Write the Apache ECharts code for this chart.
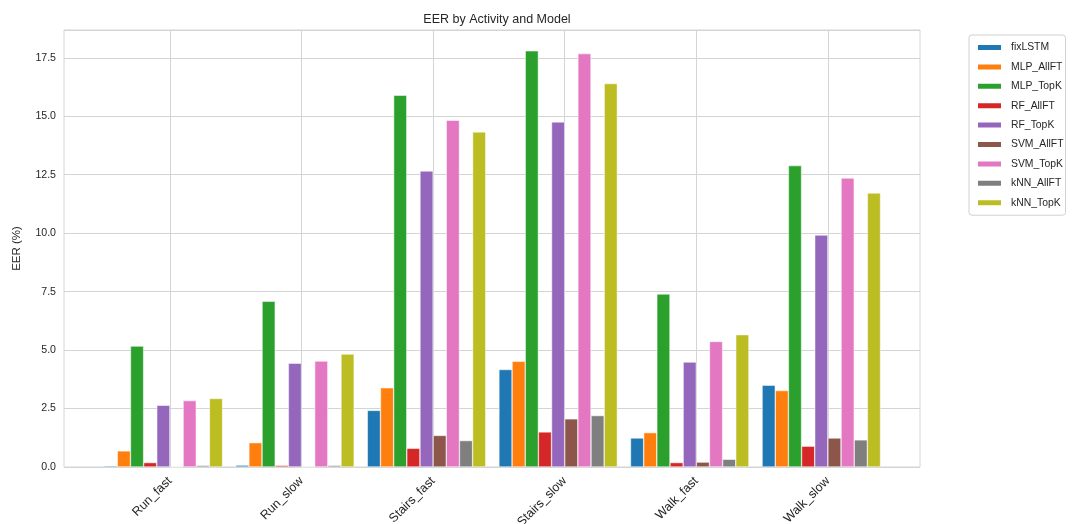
<!DOCTYPE html>
<html>
<head>
<meta charset="utf-8">
<script src="https://cdn.jsdelivr.net/npm/echarts@6/dist/echarts.min.js"></script>
<style>
  html, body { margin: 0; padding: 0; background: #fff; }
  #chart { width: 1073px; height: 524px; }
</style>
</head>
<body>
<div id="chart"></div>
<script>
// Activities (x groups) and the EER (%) of each model per activity
const activities = ['Run_fast', 'Run_slow', 'Stairs_fast', 'Stairs_slow', 'Walk_fast', 'Walk_slow'];
const models = ['fixLSTM', 'MLP_AllFT', 'MLP_TopK', 'RF_AllFT', 'RF_TopK', 'SVM_AllFT', 'SVM_TopK', 'kNN_AllFT', 'kNN_TopK'];

const fixLSTM   = [0.05, 0.08, 2.42, 4.17, 1.24, 3.50];
const MLP_AllFT = [0.69, 1.04, 3.39, 4.52, 1.47, 3.27];
const MLP_TopK  = [5.17, 7.09, 15.90, 17.80, 7.40, 12.89];
const RF_AllFT  = [0.19, 0.07, 0.80, 1.50, 0.19, 0.89];
const RF_TopK   = [2.64, 4.44, 12.66, 14.76, 4.49, 9.92];
const SVM_AllFT = [0.00, 0.00, 1.35, 2.06, 0.21, 1.24];
const SVM_TopK  = [2.84, 4.53, 14.83, 17.68, 5.37, 12.36];
const kNN_AllFT = [0.07, 0.07, 1.13, 2.20, 0.33, 1.16];
const kNN_TopK  = [2.93, 4.83, 14.33, 16.40, 5.66, 11.72];

const seriesValues = [fixLSTM, MLP_AllFT, MLP_TopK, RF_AllFT, RF_TopK, SVM_AllFT, SVM_TopK, kNN_AllFT, kNN_TopK];
const yTicks = [0, 2.5, 5, 7.5, 10, 12.5, 15, 17.5];

const colors = ['#1f77b4', '#ff7f0e', '#2ca02c', '#d62728', '#9467bd', '#8c564b', '#e377c2', '#7f7f7f', '#bcbd22'];
const textColor = '#262626';
const gridColor = '#d4d4d4';
const font = '"Liberation Sans", Arial, sans-serif';

// bar groups sit on integer positions; tick marks sit half a bar to the right
const barUnit = 0.1;
const tickPositions = activities.map((_, i) => i + barUnit / 2);
const yMax = Math.max(...seriesValues.flat()) * 1.05;

const chart = echarts.init(document.getElementById('chart'), null, { renderer: 'canvas' });

chart.setOption({
  animation: false,
  backgroundColor: '#ffffff',
  color: colors,
  textStyle: { fontFamily: font },
  title: {
    text: 'EER by Activity and Model',
    left: 492,
    textAlign: 'center',
    top: 8,
    textStyle: { fontFamily: font, fontSize: 12.5, fontWeight: 'normal', color: textColor }
  },
  legend: {
    orient: 'vertical',
    left: 969,
    top: 35,
    data: models,
    icon: 'rect',
    itemWidth: 25,
    itemHeight: 7,
    itemGap: 6.4,
    padding: [6, 2, 6, 7],
    backgroundColor: '#ffffff',
    borderColor: '#d0d0d0',
    borderWidth: 1,
    borderRadius: 3,
    textStyle: { fontFamily: font, fontSize: 10.4, color: textColor, lineHeight: 13, padding: [0, 0, 0, 4] }
  },
  grid: {
    left: 64,
    right: 1073 - 920,
    top: 30,
    bottom: 524 - 467,
    show: true,
    borderColor: gridColor,
    borderWidth: 1,
    containLabel: false,
    outerBoundsMode: 'none'
  },
  xAxis: {
    type: 'value',
    min: -0.755,
    max: activities.length - 1 + 0.75,
    axisLine: { show: false },
    axisTick: { show: false, customValues: tickPositions },
    axisLabel: {
      customValues: tickPositions,
      formatter: v => activities[Math.round(v - barUnit / 2)],
      rotate: 45,
      margin: 12,
      fontFamily: font,
      fontSize: 12.5,
      color: textColor
    },
    splitLine: { show: true, lineStyle: { color: gridColor, width: 1 } }
  },
  yAxis: {
    type: 'value',
    min: 0,
    max: yMax,
    interval: 2.5,
    name: 'EER (%)',
    nameLocation: 'middle',
    nameGap: 41,
    nameRotate: 90,
    nameTextStyle: { fontFamily: font, fontSize: 11.5, color: textColor },
    axisLine: { show: false },
    axisTick: { show: false },
    axisLabel: {
      showMaxLabel: false,
      formatter: v => yTicks.includes(v) ? v.toFixed(1) : '',
      margin: 8,
      fontFamily: font,
      fontSize: 10.6,
      color: textColor
    },
    splitLine: { show: true, lineStyle: { color: gridColor, width: 1 } }
  },
  series: models.map((name, j) => ({
    name: name,
    type: 'bar',
    data: seriesValues[j].map((v, i) => [i, v]),
    barGap: '0%',
    barCategoryGap: '10%',
    itemStyle: { color: colors[j], borderColor: '#ffffff', borderWidth: 0.5 }
  }))
});
</script>
</body>
</html>
